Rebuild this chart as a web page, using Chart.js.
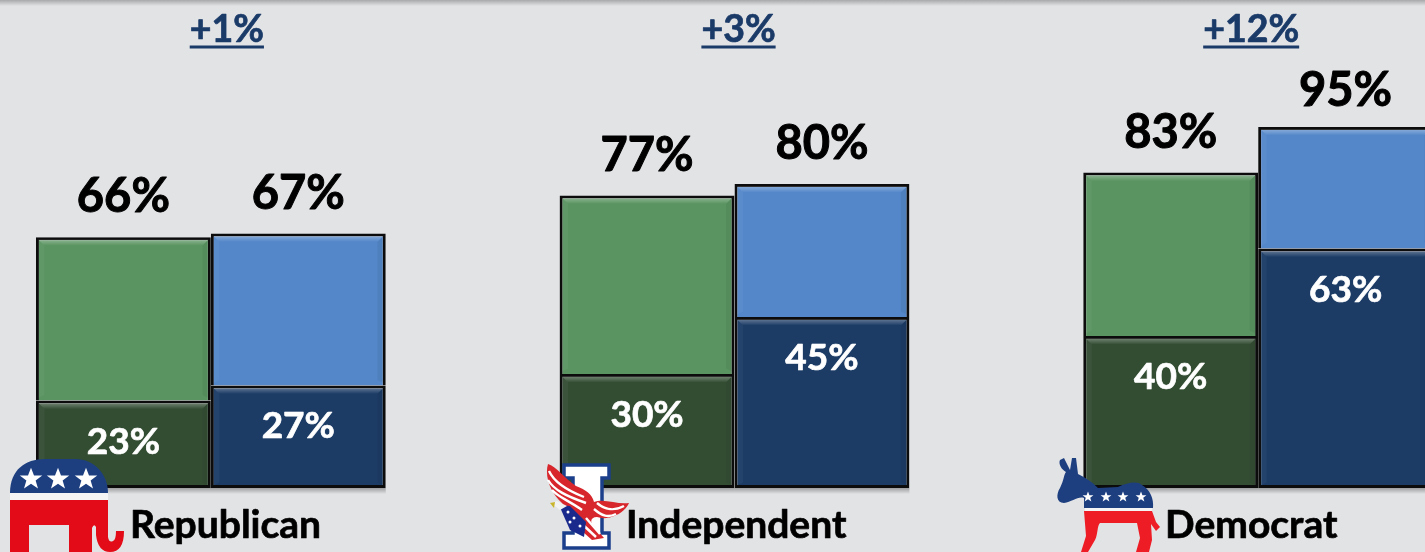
<!DOCTYPE html>
<html>
<head>
<meta charset="utf-8">
<script src="https://cdn.jsdelivr.net/npm/chart.js@4"></script>
<style>
    html, body { margin: 0; padding: 0; width: 1425px; height: 552px; overflow: hidden; background: #e2e3e5; }
    #topShade { position: absolute; left: 0; top: 0; width: 1425px; height: 6px; z-index: 3;
        background: linear-gradient(#a8a9ab, #e2e3e5); }
    #myChart { position: absolute; left: -51px; top: 0; }
    #logos { position: absolute; left: 0; top: 0; z-index: 2; }
</style>
</head>
<body>
<div id="topShade"></div>
<canvas id="myChart" width="1571" height="552"></canvas>

<svg id="logos" width="1425" height="552" viewBox="0 0 1425 552">
    <defs>
        <path id="star" d="M0 -9 L2.4 -2.8 L9 -2.8 L3.7 1.2 L5.6 7.6 L0 3.8 L-5.6 7.6 L-3.7 1.2 L-9 -2.8 L-2.4 -2.8 Z" fill="#fff"/>
    </defs>
    <!-- elephant -->
    <path d="M10 493 C10 470 25 459 45 459 L75 459 C95 459 108 475 108 493 Z" fill="#1d3f80"/>
    <use href="#star" transform="translate(31 479) scale(1.25)"/>
    <use href="#star" transform="translate(58 479) scale(1.25)"/>
    <use href="#star" transform="translate(86 479) scale(1.25)"/>
    <rect x="10" y="493" width="98" height="7" fill="#f4f4f4"/>
    <path d="M10 500 H108 L108 537 Q109 543 113 541 Q116 540 116 531 L124 531 Q124 552 110 552 Q98 552 96 535 L96 527 Q94 523 92 528 L92 552 H69 V525 H29 V552 H10 Z" fill="#e30b17"/>
    <!-- eagle I -->
    <path d="M564 465 H609 V478 H602 V533 H609 V548 H564 V533 H573 V478 H564 Z" fill="#fff" stroke="#1c3f8c" stroke-width="3.5"/>
    <path d="M548 464 C556 466 564 478 576 486 C586 490 592 494 594 502 C604 498 618 505 629 503 C624 514 608 521 597 517 C592 517 590 520 592 524 L604 538 L592 540 L574 524 L562 503 C552 494 544 478 548 464 Z" fill="#d7262c"/>
    <path d="M549 471 C554 482 566 490 584 497 M548 480 C554 490 566 496 586 503 M552 490 C558 497 568 500 582 510 M597 503 C605 510 615 511 624 506 M594 509 C602 516 608 518 616 514 M580 522 L596 537 M586 518 L600 534" fill="none" stroke="#fff" stroke-width="2.4"/>
    <path d="M559 505 L570 506 L586 522 L584 537 L570 530 Z" fill="#1a2a8c"/>
    <circle cx="568" cy="512" r="1.5" fill="#fff"/><circle cx="574" cy="518" r="1.5" fill="#fff"/><circle cx="570" cy="522" r="1.5" fill="#fff"/><circle cx="580" cy="526" r="1.5" fill="#fff"/>
    <path d="M551 503 L557 501 L567 506 L560 510 Z" fill="#f2f2f2"/>
    <path d="M550 503 L555 502 L554 508 Z" fill="#c9b52b"/>
    <!-- donkey -->
    <path d="M1060 460 L1064 458 L1070 470 L1072 458 L1076 458 L1078 474 C1086 478 1092 482 1098 488 L1118 487 C1128 482 1138 481 1142 485 C1150 490 1154 498 1153 508 H1084 L1084 498 C1078 496 1072 502 1064 503 C1056 503 1056 494 1060 488 C1064 480 1064 474 1066 472 C1062 470 1058 464 1060 460 Z" fill="#1d3f80"/>
    <use href="#star" transform="translate(1088 497) scale(0.6)"/>
    <use href="#star" transform="translate(1106 497) scale(0.6)"/>
    <use href="#star" transform="translate(1123 497) scale(0.6)"/>
    <use href="#star" transform="translate(1141 497) scale(0.6)"/>
    <rect x="1085" y="508" width="67" height="3" fill="#f4f4f4"/>
    <path d="M1084 511 H1152 L1156 522 L1160 527 L1156 531 L1151 524 L1152 540 L1149 552 H1136 L1140 538 L1137 523 L1100 523 C1097 526 1098 534 1095 540 L1088 552 H1081 L1086 536 Z" fill="#ee1c25"/>
</svg>

<script>
document.addEventListener('DOMContentLoaded', function(){
    var categories = ['Republican', 'Independent', 'Democrat'];
    var greenLower = [23, 30, 40];
    var greenUpper = [43, 47, 43];
    var blueLower = [27, 45, 63];
    var blueUpper = [40, 35, 32];
    var greenTotalLabels = ['66%', '77%', '83%'];
    var blueTotalLabels = ['67%', '80%', '95%'];
    var greenLowerLabels = ['23%', '30%', '40%'];
    var blueLowerLabels = ['27%', '45%', '63%'];
    var changeLabels = ['+1%', '+3%', '+12%'];

    var fontName = 'Lato, "Open Sans", sans-serif';
    var labelShift = [16, 4, -7];
    var categoryLeft = [130, 626, 1165];

    function bevel(ctx, p, strip) {
        var l = p.x - p.width / 2 + 2.5, r = p.x + p.width / 2 - 2.5, t = p.y + 2.5, b = p.base - 2.5;
        ctx.save();
        var g = ctx.createLinearGradient(0, t, 0, t + strip);
        g.addColorStop(0, 'rgba(255,255,255,0.3)');
        g.addColorStop(1, 'rgba(255,255,255,0)');
        ctx.fillStyle = g;
        ctx.beginPath();
        ctx.moveTo(l, t); ctx.lineTo(r, t); ctx.lineTo(r - strip, t + strip); ctx.lineTo(l + strip, t + strip);
        ctx.closePath(); ctx.fill();
        ctx.fillStyle = 'rgba(255,255,255,0.04)';
        ctx.beginPath();
        ctx.moveTo(l, t); ctx.lineTo(l + strip, t + strip); ctx.lineTo(l + strip, b - 3); ctx.lineTo(l, b);
        ctx.closePath(); ctx.fill();
        ctx.fillStyle = 'rgba(0,0,0,0.05)';
        ctx.beginPath();
        ctx.moveTo(r, t); ctx.lineTo(r - strip, t + strip); ctx.lineTo(r - strip, b - 3); ctx.lineTo(r, b);
        ctx.closePath(); ctx.fill();
        ctx.restore();
    }

    // soft shade on the floor under a bar
    function floorShadow(ctx, p) {
        var g = ctx.createLinearGradient(0, p.base, 0, p.base + 6);
        g.addColorStop(0, 'rgba(0,0,0,0.3)');
        g.addColorStop(1, 'rgba(0,0,0,0)');
        ctx.fillStyle = g;
        ctx.fillRect(p.x - p.width / 2, p.base, p.width, 6);
    }

    // Lato bold is lighter than the original face, a thin stroke brings it closer
    function heavyText(ctx, text, x, y, weight) {
        ctx.lineWidth = weight;
        ctx.lineJoin = 'round';
        ctx.strokeStyle = ctx.fillStyle;
        ctx.strokeText(text, x, y);
        ctx.fillText(text, x, y);
    }

    var shadowAndText = {
        id: 'shadowAndText',
        afterDatasetsDraw: function(chart) {
            var ctx = chart.ctx;

            chart.data.datasets.forEach(function(ds, d) {
                chart.getDatasetMeta(d).data.forEach(function(bar) {
                    var p = bar.getProps(['x', 'y', 'base', 'width']);
                    bevel(ctx, p, 6);
                    if (d === 0 || d === 2) floorShadow(ctx, p);
                });
            });

            ctx.textAlign = 'center';
            ctx.textBaseline = 'middle';

            // labels inside the dark part of the bars
            ctx.fillStyle = '#ffffff';
            ctx.font = 'bold 37px ' + fontName;
            [[0, greenLowerLabels], [2, blueLowerLabels]].forEach(function(item) {
                chart.getDatasetMeta(item[0]).data.forEach(function(bar, i) {
                    heavyText(ctx, item[1][i], bar.x, bar.y + 41, 0.7);
                });
            });

            // totals above the bars
            ctx.fillStyle = '#000000';
            ctx.font = 'bold 47px ' + fontName;
            [[1, greenTotalLabels], [3, blueTotalLabels]].forEach(function(item) {
                chart.getDatasetMeta(item[0]).data.forEach(function(bar, i) {
                    heavyText(ctx, item[1][i], bar.x, Math.max(91, bar.y - 40), 1);
                });
            });

            // change between the two bars, underlined
            ctx.fillStyle = '#1a3a68';
            ctx.font = 'bold 37.5px ' + fontName;
            changeLabels.forEach(function(text, i) {
                var cx = chart.scales.x.getPixelForValue(i) + labelShift[i];
                var w = ctx.measureText(text).width;
                heavyText(ctx, text, cx, 30, 0.7);
                ctx.fillRect(cx - w / 2, 45.5, w, 3);
            });

            // party names next to the logos
            ctx.fillStyle = '#000000';
            ctx.font = 'bold 39px ' + fontName;
            ctx.textAlign = 'left';
            categories.forEach(function(name, i) {
                heavyText(ctx, name, categoryLeft[i] + 51, 525, 0.7);
            });
        }
    };

    var ctx = document.getElementById('myChart').getContext('2d');
    var myChart = new Chart(ctx, {
        type: 'bar',
        data: {
            labels: categories,
            datasets: [
                { label: 'Green lower', stack: 'green', data: greenLower, backgroundColor: '#334d33', borderSkipped: false },
                { label: 'Green upper', stack: 'green', data: greenUpper, backgroundColor: '#5a9461', borderSkipped: 'bottom' },
                { label: 'Blue lower', stack: 'blue', data: blueLower, backgroundColor: '#1c3c66', borderSkipped: false },
                { label: 'Blue upper', stack: 'blue', data: blueUpper, backgroundColor: '#5487c9', borderSkipped: 'bottom' }
            ]
        },
        options: {
            responsive: false,
            animation: false,
            layout: { padding: { left: 0, right: 0, top: 32, bottom: 64 } },
            datasets: {
                bar: {
                    categoryPercentage: 0.668,
                    barPercentage: 1,
                    borderColor: '#0c0c0c',
                    borderWidth: 3,
                    clip: false
                }
            },
            plugins: {
                legend: { display: false },
                title: { display: false },
                tooltip: { enabled: false }
            },
            scales: {
                x: { display: false, stacked: true },
                y: { display: false, stacked: true, min: 0, max: 120 }
            }
        },
        plugins: [shadowAndText]
    });
});
</script>
</body>
</html>
